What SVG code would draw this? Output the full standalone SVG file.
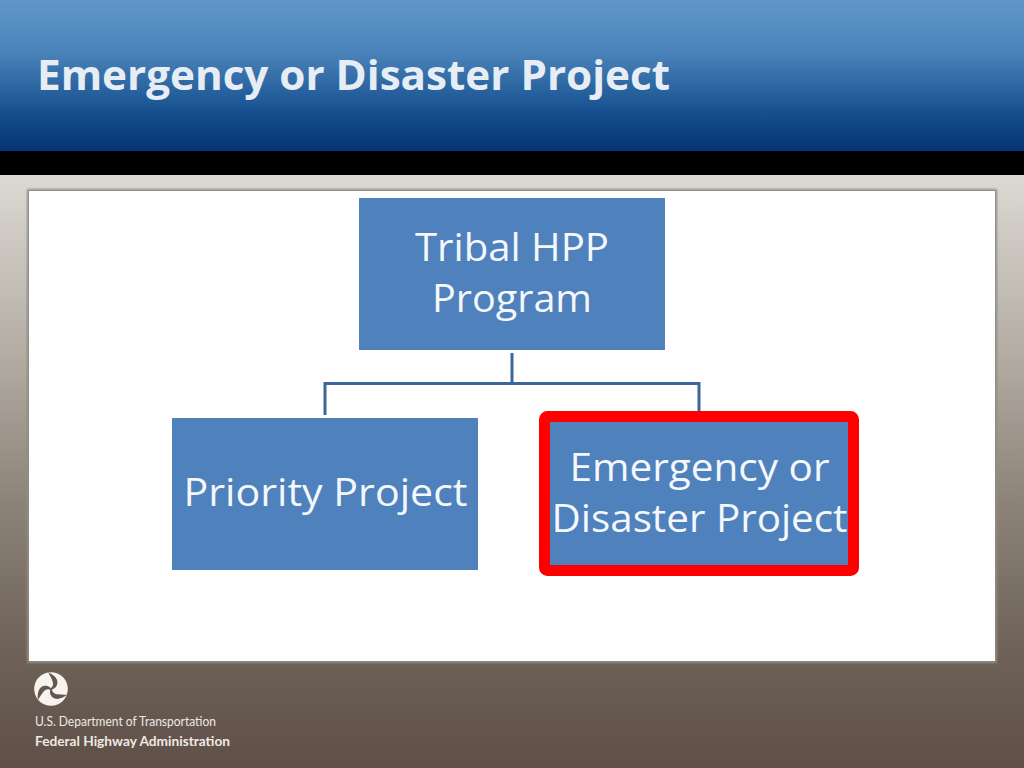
<svg xmlns="http://www.w3.org/2000/svg" width="1024" height="768" viewBox="0 0 1024 768">
<style>
.n{fill:#4f81bd}
.t{font-family:"Open Sans","Noto Sans","Liberation Sans",sans-serif;font-size:39px;fill:#f4f7fb;text-anchor:middle}
.c{fill:none;stroke:#3b679c;stroke-width:3}
.f{font-family:"Lato","Liberation Sans",sans-serif;fill:#eee9e3}
.s{fill:#65574e}
</style>
<defs>
<linearGradient id="h" x1="0" y1="0" x2="0" y2="1"><stop offset="0" stop-color="#5f97c9"/><stop offset="0.35" stop-color="#4a83b9"/><stop offset="0.75" stop-color="#154f8e"/><stop offset="1" stop-color="#043473"/></linearGradient>
<linearGradient id="b" x1="0" y1="0" x2="0" y2="1"><stop offset="0" stop-color="#dcd9d3"/><stop offset="0.3" stop-color="#b3ada4"/><stop offset="0.55" stop-color="#8d8378"/><stop offset="0.82" stop-color="#6c6057"/><stop offset="1" stop-color="#5f5048"/></linearGradient>
<filter id="soft" x="-2%" y="-2%" width="104%" height="104%"><feGaussianBlur stdDeviation="0.8"/></filter>
<path id="sw" d="M-3 -16.800C4 -14 8 -9 6 -4C5 -1 2 0.500 -2 1C2 -2 3 -5 1 -9C0 -12 -2 -15 -3 -16.800Z"/>
</defs>
<rect id="background" y="175" width="1024" height="593" fill="url(#b)"/>
<rect id="bar" y="151" width="1024" height="24" fill="#000"/>
<rect id="header" width="1024" height="151" fill="url(#h)"/>
<text id="title" x="37" y="90" font-family="Open Sans,Noto Sans,sans-serif" font-weight="700" font-size="42" fill="#e6edf5" textLength="633" lengthAdjust="spacingAndGlyphs">Emergency or Disaster Project</text>
<rect id="panel-edge" x="28" y="190" width="968" height="472" fill="#8f8c85" stroke="#8f8c85" stroke-width="2" filter="url(#soft)"/>
<rect id="panel" x="29" y="191" width="966" height="470" fill="#fff"/>
<g id="connectors">
<path class="c" d="M512 353V383.500M325 415V383.500H699V411"/>
</g>
<g id="tribal">
<rect class="n" x="359" y="198" width="306" height="152"/>
<text class="t" x="512" y="261" textLength="194" lengthAdjust="spacingAndGlyphs">Tribal HPP</text>
<text class="t" x="512" y="312" textLength="160" lengthAdjust="spacingAndGlyphs">Program</text>
</g>
<g id="priority">
<rect class="n" x="172" y="418" width="306" height="152"/>
<text class="t" x="325.500" y="506" textLength="284" lengthAdjust="spacingAndGlyphs">Priority Project</text>
</g>
<g id="emergency">
<rect x="544.500" y="416.500" width="309" height="154" rx="3" class="n" stroke="#fe0000" stroke-width="11"/>
<text class="t" x="699.500" y="481" textLength="260" lengthAdjust="spacingAndGlyphs">Emergency or</text>
<text class="t" x="699.500" y="532" textLength="296" lengthAdjust="spacingAndGlyphs">Disaster Project</text>
</g>
<g id="logo" transform="translate(51 689)">
<circle r="16.800" fill="#f7f4f0"/>
<use href="#sw" class="s"/>
<use href="#sw" class="s" transform="rotate(120)"/>
<use href="#sw" class="s" transform="rotate(240)"/>
</g>
<text id="dot" class="f" x="35" y="726" font-size="13" textLength="181" lengthAdjust="spacingAndGlyphs">U.S. Department of Transportation</text>
<text id="fhwa" class="f" x="35" y="746" font-size="13" font-weight="700" textLength="195" lengthAdjust="spacingAndGlyphs">Federal Highway Administration</text>
</svg>
